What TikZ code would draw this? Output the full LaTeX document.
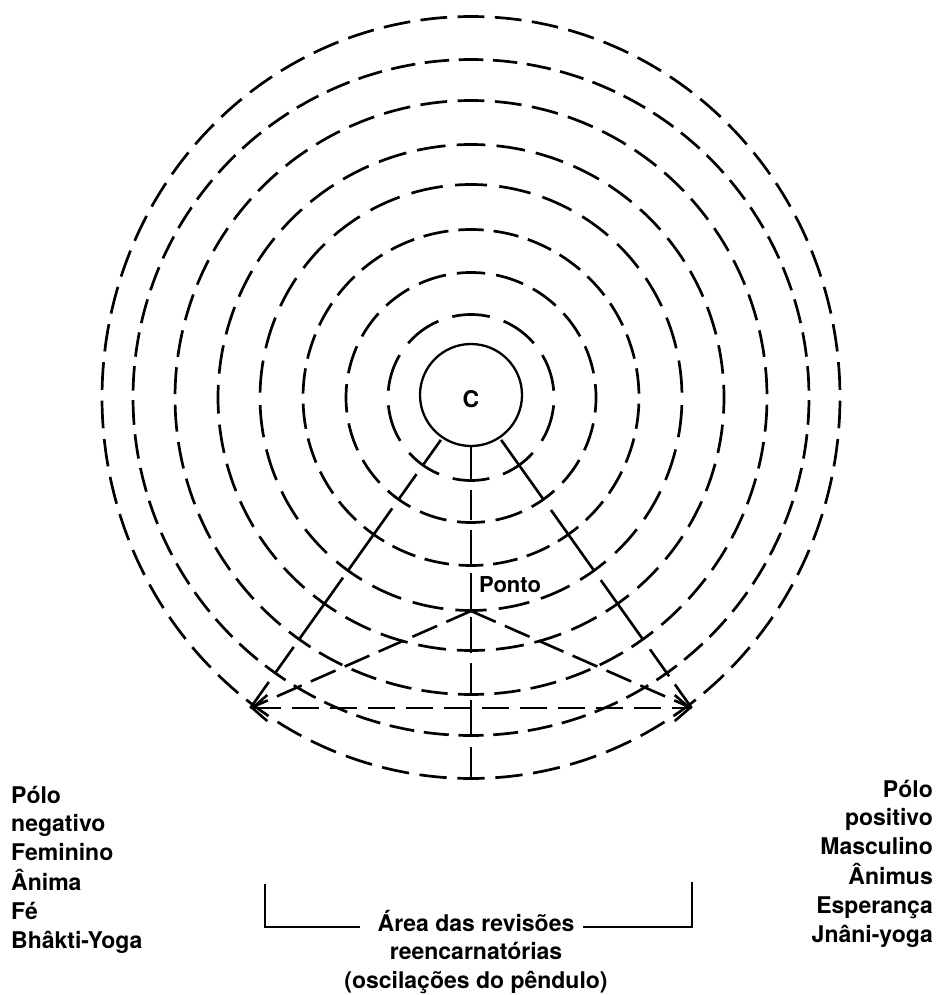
\documentclass[tikz,border=0pt]{standalone}
\usepackage{fontspec}
\setmainfont{TeX Gyre Heros}
\usetikzlibrary{arrows.meta,calc}
\begin{document}
\begin{tikzpicture}[x=1pt,y=-1pt,
  ring/.style={line width=2.7pt},
  solidring/.style={line width=2.3pt},
  seg/.style={line width=2.6pt},
  pend/.style={line width=2.6pt, dash pattern=on 27pt off 10pt},
  axisline/.style={line width=2.6pt, dash pattern=on 27pt off 11pt,
     {Straight Barb[length=15pt,width=26pt]}-{Straight Barb[length=15pt,width=26pt]}},
  lbl/.style={font=\fontsize{23}{28.8}\selectfont\bfseries, inner sep=0pt},
  bracket/.style={line width=1.8pt}]
\useasboundingbox (0,0) rectangle (935,995);
\coordinate (c) at (471,397.5);
% dashed rings, dashes centred on the three spokes
\foreach \rx/\ry/\k in {83/83/1,125/125/2,168/168/3,211/213/3,253/253/4,296/297/5,338/338/6,369/381/6}{
  \pgfmathsetmacro\rgD{35.4/\k}
  \pgfmathtruncatemacro\rgN{round(144.6/\rgD)}
  \pgfmathsetmacro\rgE{144.6/\rgN}
  \foreach \j in {-\k,...,\k}{
    \pgfmathsetmacro\rgA{90+\j*\rgD-0.36*\rgD}
    \pgfmathsetmacro\rgB{90+\j*\rgD+0.36*\rgD}
    \draw[ring] plot[smooth,domain=\rgA:\rgB,samples=7,variable=\t] ({471+\rx*cos(\t)},{397.5+\ry*sin(\t)});
  }
  \foreach \i in {1,...,\rgN}{
    \pgfmathsetmacro\rgA{125.4+\i*\rgE-0.36*\rgE}
    \pgfmathsetmacro\rgB{125.4+\i*\rgE+0.36*\rgE}
    \draw[ring] plot[smooth,domain=\rgA:\rgB,samples=7,variable=\t] ({471+\rx*cos(\t)},{397.5+\ry*sin(\t)});
    \ifnum\i<\rgN
      \pgfmathsetmacro\rgA{54.6-\i*\rgE-0.36*\rgE}
      \pgfmathsetmacro\rgB{54.6-\i*\rgE+0.36*\rgE}
      \draw[ring] plot[smooth,domain=\rgA:\rgB,samples=7,variable=\t] ({471+\rx*cos(\t)},{397.5+\ry*sin(\t)});
    \fi
  }
}
% central solid circle
\node[draw, circle, solidring, minimum size=102pt, inner sep=0pt] (core) at (471,395) {};
\node[lbl] (clabel) at (471,399) {C};
% spokes
\foreach \a/\b in {52/83,94/126,136/211,221/296,306/338,349/381}
  \draw[seg] ($(c)+(125.4:\a)$) -- ($(c)+(125.4:\b)$);
\foreach \a/\b in {52/125,138/213,224/297,309/342,352/381}
  \draw[seg] ($(c)+(54.6:\a)$) -- ($(c)+(54.6:\b)$);
\foreach \a/\b in {446/480,490/520,530/567,573/611,617/653,663/695,700/737,747/779}
  \draw[seg] (471,\a) -- (471,\b);
% pendulum lines
\coordinate (tipL) at ($(c)+(125.4:381)$);
\coordinate (tipR) at ($(c)+(54.6:381)$);
\coordinate (ponto) at (471,611);
\draw[pend] (ponto) -- (tipL);
\draw[pend] (ponto) -- (tipR);
\draw[axisline] (tipL) -- (tipR);
\node[lbl, font=\fontsize{22}{26}\selectfont\bfseries, anchor=base west] (pontolbl) at (479,592) {Ponto};
% side labels
\node[lbl, anchor=base west] (neg) at (11,803)
  {\begin{tabular}[t]{@{}l@{}}Pólo\\ negativo\\ Feminino\\ Ânima\\ Fé\\ Bhâkti-Yoga\end{tabular}};
\node[lbl, anchor=base east] (pos) at (933,797)
  {\begin{tabular}[t]{@{}r@{}}Pólo\\ positivo\\ Masculino\\ Ânimus\\ Esperança\\ Jnâni-yoga\end{tabular}};
% bottom bracket
\node[lbl, anchor=base] (area) at (476,931)
  {\begin{tabular}[t]{@{}c@{}}Área das revisões\\ reencarnatórias\\ (oscilações do pêndulo)\end{tabular}};
\coordinate (bl) at (265,884);
\coordinate (br) at (692,882);
\draw[bracket] (bl) |- (360,927);
\draw[bracket] (br) |- (583,927);
\end{tikzpicture}
\end{document}
